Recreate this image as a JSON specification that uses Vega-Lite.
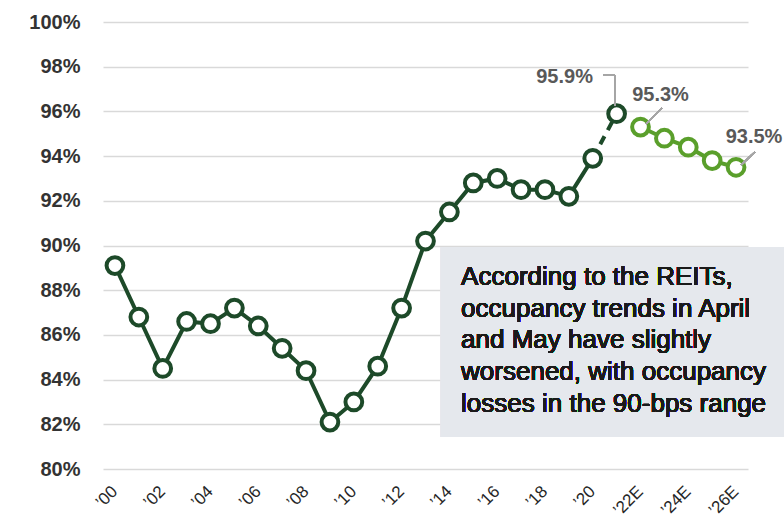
{
  "$schema": "https://vega.github.io/schema/vega-lite/v6.json",
  "width": 645,
  "height": 447,
  "autosize": {"type": "none"},
  "padding": {"left": 103, "top": 22, "right": 36, "bottom": 46},
  "background": "#ffffff",
  "config": {
    "view": {"stroke": null},
    "font": "Liberation Sans",
    "axis": {"labelFont": "Liberation Sans"}
  },
  "data": {
    "values": [
      {"year": 2000, "value": 89.1, "series": "Actual", "label": "", "tick": "’00"},
      {"year": 2001, "value": 86.8, "series": "Actual", "label": "", "tick": ""},
      {"year": 2002, "value": 84.5, "series": "Actual", "label": "", "tick": "’02"},
      {"year": 2003, "value": 86.6, "series": "Actual", "label": "", "tick": ""},
      {"year": 2004, "value": 86.5, "series": "Actual", "label": "", "tick": "’04"},
      {"year": 2005, "value": 87.2, "series": "Actual", "label": "", "tick": ""},
      {"year": 2006, "value": 86.4, "series": "Actual", "label": "", "tick": "’06"},
      {"year": 2007, "value": 85.4, "series": "Actual", "label": "", "tick": ""},
      {"year": 2008, "value": 84.4, "series": "Actual", "label": "", "tick": "’08"},
      {"year": 2009, "value": 82.1, "series": "Actual", "label": "", "tick": ""},
      {"year": 2010, "value": 83.0, "series": "Actual", "label": "", "tick": "’10"},
      {"year": 2011, "value": 84.6, "series": "Actual", "label": "", "tick": ""},
      {"year": 2012, "value": 87.2, "series": "Actual", "label": "", "tick": "’12"},
      {"year": 2013, "value": 90.2, "series": "Actual", "label": "", "tick": ""},
      {"year": 2014, "value": 91.5, "series": "Actual", "label": "", "tick": "’14"},
      {"year": 2015, "value": 92.8, "series": "Actual", "label": "", "tick": ""},
      {"year": 2016, "value": 93.0, "series": "Actual", "label": "", "tick": "’16"},
      {"year": 2017, "value": 92.5, "series": "Actual", "label": "", "tick": ""},
      {"year": 2018, "value": 92.5, "series": "Actual", "label": "", "tick": "’18"},
      {"year": 2019, "value": 92.2, "series": "Actual", "label": "", "tick": ""},
      {"year": 2020, "value": 93.9, "series": "Actual", "label": "", "tick": "’20"},
      {"year": 2021, "value": 95.9, "series": "Actual", "label": "95.9%", "tick": ""},
      {"year": 2022, "value": 95.3, "series": "Forecast", "label": "95.3%", "tick": "’22E"},
      {"year": 2023, "value": 94.8, "series": "Forecast", "label": "", "tick": ""},
      {"year": 2024, "value": 94.4, "series": "Forecast", "label": "", "tick": "’24E"},
      {"year": 2025, "value": 93.8, "series": "Forecast", "label": "", "tick": ""},
      {"year": 2026, "value": 93.5, "series": "Forecast", "label": "93.5%", "tick": "’26E"}
    ]
  },
  "encoding": {
    "x": {
      "field": "year",
      "type": "quantitative",
      "scale": {"domain": [1999.5, 2026.5], "nice": false, "zero": false},
      "axis": null
    },
    "y": {
      "field": "value",
      "type": "quantitative",
      "scale": {"domain": [80, 100], "nice": false, "zero": false},
      "axis": {
        "title": null,
        "values": [80, 82, 84, 86, 88, 90, 92, 94, 96, 98, 100],
        "labelExpr": "datum.value + '%'",
        "labelFontSize": 20,
        "labelFontWeight": "bold",
        "labelColor": "#333333",
        "labelPadding": 23,
        "domain": false,
        "ticks": false,
        "grid": true,
        "gridColor": "#d9d9d9",
        "gridWidth": 1.5
      }
    }
  },
  "layer": [
    {
      "mark": {"type": "rect", "color": "#e5e8ed", "clip": false},
      "encoding": {
        "x": {"datum": 2013.64},
        "x2": {"datum": 2030},
        "y": {"datum": 89.93},
        "y2": {"datum": 81.43}
      }
    },
    {
      "mark": {
        "type": "text",
        "text": ["According to the REITs,", "occupancy trends in April", "and May have slightly", "worsened, with occupancy", "losses in the 90-bps range"],
        "align": "left",
        "baseline": "alphabetic",
        "fontSize": 26,
        "fontWeight": 400,
        "lineHeight": 31.7,
        "color": "#1a1a1a",
        "font": "Liberation Sans"
      },
      "encoding": {
        "x": {"datum": 2014.49},
        "y": {"datum": 88.23}
      }
    },
    {
      "transform": [{"filter": "datum.year <= 2020"}],
      "mark": {"type": "line", "color": "#1d4a29", "strokeWidth": 4},
      "encoding": {}
    },
    {
      "transform": [{"filter": "datum.year >= 2020 && datum.year <= 2021"}],
      "mark": {"type": "line", "color": "#1d4a29", "strokeWidth": 4, "strokeDash": [9, 7]},
      "encoding": {}
    },
    {
      "transform": [{"filter": "datum.series == 'Forecast'"}],
      "mark": {"type": "line", "color": "#5a9f2b", "strokeWidth": 4},
      "encoding": {}
    },
    {
      "mark": {"type": "point", "shape": "circle", "filled": false, "fill": "#ffffff", "fillOpacity": 1, "opacity": 1, "strokeWidth": 4, "size": 280},
      "encoding": {
        "stroke": {
          "field": "series",
          "type": "nominal",
          "scale": {"domain": ["Actual", "Forecast"], "range": ["#1d4a29", "#5a9f2b"]},
          "legend": null
        }
      }
    },
    {
      "mark": {"type": "rule", "color": "#a6a6a6", "strokeWidth": 1.5},
      "encoding": {
        "x": {"datum": 2020.43},
        "x2": {"datum": 2020.93},
        "y": {"datum": 97.63}
      }
    },
    {
      "mark": {"type": "rule", "color": "#a6a6a6", "strokeWidth": 1.5},
      "encoding": {
        "x": {"datum": 2020.93},
        "y": {"datum": 97.63},
        "y2": {"datum": 96.24}
      }
    },
    {
      "mark": {"type": "rule", "color": "#a6a6a6", "strokeWidth": 1.5},
      "encoding": {
        "x": {"datum": 2022.90},
        "x2": {"datum": 2022.23},
        "y": {"datum": 96.15},
        "y2": {"datum": 95.44}
      }
    },
    {
      "mark": {"type": "rule", "color": "#a6a6a6", "strokeWidth": 1.5},
      "encoding": {
        "x": {"datum": 2026.79},
        "x2": {"datum": 2026.21},
        "y": {"datum": 94.18},
        "y2": {"datum": 93.60}
      }
    },
    {
      "transform": [{"filter": "datum.year == 2021"}],
      "mark": {"type": "text", "fontSize": 20, "fontWeight": "bold", "color": "#595959", "align": "center", "baseline": "middle", "dx": -52, "dy": -37},
      "encoding": {"text": {"field": "label"}}
    },
    {
      "transform": [{"filter": "datum.year == 2022"}],
      "mark": {"type": "text", "fontSize": 20, "fontWeight": "bold", "color": "#595959", "align": "center", "baseline": "middle", "dx": 20, "dy": -32},
      "encoding": {"text": {"field": "label"}}
    },
    {
      "transform": [{"filter": "datum.year == 2026"}],
      "mark": {"type": "text", "fontSize": 20, "fontWeight": "bold", "color": "#595959", "align": "center", "baseline": "middle", "dx": 18, "dy": -30},
      "encoding": {"text": {"field": "label"}}
    },
    {
      "transform": [{"filter": "datum.tick != ''"}],
      "mark": {"type": "text", "angle": 315, "align": "right", "baseline": "middle", "fontSize": 17, "color": "#262626", "clip": false},
      "encoding": {
        "y": {"datum": 79.1},
        "text": {"field": "tick"}
      }
    }
  ]
}
